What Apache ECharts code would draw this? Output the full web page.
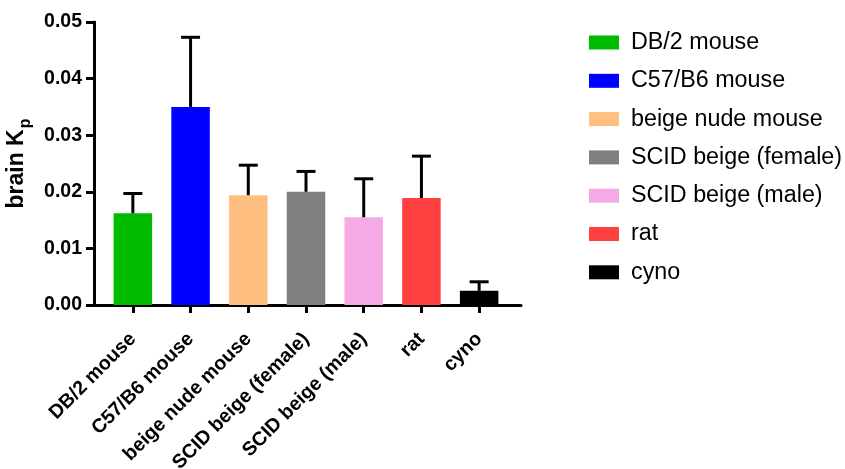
<!DOCTYPE html>
<html>
<head>
<meta charset="utf-8">
<script src="https://cdn.jsdelivr.net/npm/echarts@6/dist/echarts.min.js"></script>
<style>html,body{margin:0;padding:0;background:#fff;}#c{width:845px;height:469px;}</style>
</head>
<body>
<div id="c"></div>
<script>
var categories = ['DB/2 mouse', 'C57/B6 mouse', 'beige nude mouse', 'SCID beige (female)', 'SCID beige (male)', 'rat', 'cyno'];
var means = [0.0162, 0.0350, 0.0194, 0.0200, 0.0155, 0.0189, 0.0025];
var errors = [0.0035, 0.0123, 0.0053, 0.0036, 0.0068, 0.0074, 0.0016];
var colors = ['#00BB00', '#0000FF', '#FFBF80', '#808080', '#F5AAE6', '#FF4040', '#000000'];
var yTicks = [0, 0.01, 0.02, 0.03, 0.04, 0.05];

var font = '"Liberation Sans", Arial, sans-serif';
var chart = echarts.init(document.getElementById('c'));

var barSeries = categories.map(function (name, i) {
  return {
    name: name,
    type: 'bar',
    xAxisIndex: 0,
    yAxisIndex: 0,
    stack: 'all',
    barWidth: 38.5,
    itemStyle: { color: colors[i] },
    data: categories.map(function (c, j) { return j === i ? means[i] : '-'; }),
    z: 2
  };
});

var errSeries = {
  type: 'custom',
  xAxisIndex: 0,
  yAxisIndex: 0,
  z: 3,
  data: means.map(function (m, i) { return [i, m, m + errors[i]]; }),
  renderItem: function (params, api) {
    var x = api.value(0);
    var p0 = api.coord([x, api.value(1)]);
    var p1 = api.coord([x, api.value(2)]);
    var hw = 9.5;
    var st = { stroke: '#000', lineWidth: 3 };
    return {
      type: 'group',
      children: [
        { type: 'line', shape: { x1: p0[0], y1: p0[1], x2: p1[0], y2: p1[1] }, style: st },
        { type: 'line', shape: { x1: p1[0] - hw, y1: p1[1], x2: p1[0] + hw, y2: p1[1] }, style: st }
      ]
    };
  }
};

chart.setOption({
  animation: false,
  textStyle: { fontFamily: font },
  legend: {
    orient: 'vertical',
    left: 584,
    top: 26,
    itemWidth: 30,
    itemHeight: 14,
    itemGap: 15.3,
    icon: 'rect',
    textStyle: { fontSize: 23.3, color: '#000', fontFamily: font, padding: [0, 0, 0, 7] },
    data: categories
  },
  grid: [
    { left: 104, top: 22, width: 404, height: 283, containLabel: false, outerBoundsMode: 'none' },
    { left: 94, top: 22, width: 427, height: 283, containLabel: false, outerBoundsMode: 'none' }
  ],
  xAxis: [
    {
      type: 'category', gridIndex: 0, data: categories,
      axisLine: { show: false },
      axisTick: { show: true, alignWithLabel: true, length: 8, lineStyle: { color: '#000', width: 3 } },
      axisLabel: { rotate: 45, interval: 0, margin: 31, color: '#000', fontWeight: 'bold', fontSize: 19.6, fontFamily: font }
    },
    {
      type: 'category', gridIndex: 1, data: [''],
      axisLine: { show: true, lineStyle: { color: '#000', width: 3 } },
      axisTick: { show: false },
      axisLabel: { show: false }
    }
  ],
  yAxis: [
    { type: 'value', gridIndex: 0, min: 0, max: 0.05, show: false, splitLine: { show: false } },
    {
      type: 'value', gridIndex: 1, min: 0, max: 0.05, interval: 0.01,
      axisLine: { show: true, lineStyle: { color: '#000', width: 3 } },
      axisTick: { show: true, length: 8, lineStyle: { color: '#000', width: 3 } },
      splitLine: { show: false },
      axisLabel: {
        color: '#000', fontWeight: 'bold', fontSize: 19.5, margin: 12, fontFamily: font,
        customValues: yTicks,
        formatter: function (v) { return v.toFixed(2); }
      },
      name: '{a|brain K}{s|p}',
      nameLocation: 'middle',
      nameGap: 52,
      nameTextStyle: {
        rich: {
          a: { fontSize: 23, fontWeight: 'bold', color: '#000', fontFamily: font, verticalAlign: 'bottom' },
          s: { fontSize: 16, fontWeight: 'bold', color: '#000', fontFamily: font, verticalAlign: 'bottom', padding: [0, 0, -5, 1] }
        }
      }
    }
  ],
  series: barSeries.concat([errSeries])
});
</script>
</body>
</html>
